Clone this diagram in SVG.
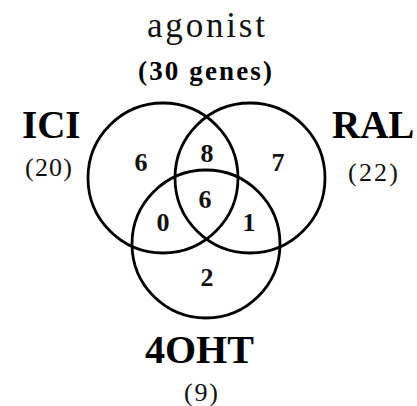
<svg xmlns="http://www.w3.org/2000/svg" width="417" height="406" viewBox="0 0 417 406">
  <style>
    .set { fill: none; stroke: #000; stroke-width: 2.8; }
    .title { font-family: "Liberation Serif", "Times New Roman", serif; font-weight: bold; fill: #000; }
    .sub { font-family: "Liberation Serif", "Times New Roman", serif; fill: #111; }
    .count { font-family: "Liberation Serif", "Times New Roman", serif; font-weight: bold; font-size: 26px; fill: #111; text-anchor: middle; }
  </style>
  <rect width="417" height="406" fill="#fff"/>

  <g id="connectors"></g>

  <g id="set-ici">
    <circle class="set" cx="163" cy="178" r="75"/>
    <text class="title" x="22" y="138" font-size="39">ICI</text>
    <text class="sub" x="25" y="176" font-size="26" textLength="47">(20)</text>
  </g>

  <g id="set-ral">
    <circle class="set" cx="250" cy="178" r="75"/>
    <text class="title" x="332" y="138" font-size="39">RAL</text>
    <text class="sub" x="348" y="181" font-size="26" textLength="50">(22)</text>
  </g>

  <g id="set-4oht">
    <circle class="set" cx="206" cy="244" r="74"/>
    <text class="title" x="145" y="363" font-size="40">4OHT</text>
    <text class="sub" x="184" y="401" font-size="26" textLength="34">(9)</text>
  </g>

  <g id="agonist-label">
    <text class="sub" x="147" y="37" font-size="35" textLength="118">agonist</text>
    <text class="title" x="138" y="80" font-size="27" textLength="134">(30 genes)</text>
  </g>

  <g id="region-counts">
    <text class="count" x="141" y="171">6</text>
    <text class="count" x="207" y="162">8</text>
    <text class="count" x="278" y="171">7</text>
    <text class="count" x="205" y="208">6</text>
    <text class="count" x="163" y="231">0</text>
    <text class="count" x="249" y="231">1</text>
    <text class="count" x="207" y="286">2</text>
  </g>
</svg>
